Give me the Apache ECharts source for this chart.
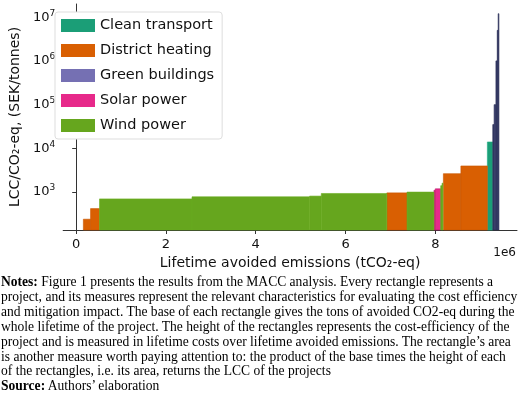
<!DOCTYPE html>
<html><head><meta charset="utf-8">
<script src="https://cdn.jsdelivr.net/npm/echarts@6/dist/echarts.min.js"></script>
<style>
body{margin:0;background:#fff;}
#c{position:absolute;left:0;top:0;width:520px;height:280px;}
#n{position:absolute;left:1px;top:275px;width:520px;font-family:"Liberation Serif","DejaVu Serif",serif;font-size:13.55px;line-height:14.9px;color:#000;white-space:nowrap;}
</style></head><body>
<div id="c"></div>
<div id="n"><b>Notes:</b> Figure 1 presents the results from the MACC analysis. Every rectangle represents a<br>project, and its measures represent the relevant characteristics for evaluating the cost efficiency<br>and mitigation impact. The base of each rectangle gives the tons of avoided CO2-eq during the<br>whole lifetime of the project. The height of the rectangles represents the cost-efficiency of the<br>project and is measured in lifetime costs over lifetime avoided emissions. The rectangle’s area<br>is another measure worth paying attention to: the product of the base times the height of each<br>of the rectangles, i.e. its area, returns the LCC of the projects<br><b>Source:</b> Authors’ elaboration</div>
<script>
const categories = ["Clean transport","District heating","Green buildings","Solar power","Wind power"];
const colors = ["#1b9e77","#d95f02","#7570b3","#e7298a","#66a61e"];
// project bars: start (tCO2-eq), end, height (SEK/t), category index
const barStart = [0.16e6,0.32e6,0.52e6,2.58e6,5.20e6,5.46e6,6.92e6,7.37e6,7.97e6,8.00e6,8.12e6,8.15e6,8.18e6,8.57e6,9.16e6,9.28e6,9.31e6,9.35e6,9.38e6,9.40e6];
const barEnd   = [0.32e6,0.52e6,2.58e6,5.20e6,5.46e6,6.92e6,7.37e6,7.97e6,8.00e6,8.12e6,8.15e6,8.17e6,8.57e6,9.16e6,9.28e6,9.31e6,9.35e6,9.38e6,9.40e6,9.41e6];
const barValue = [240,420,700,780,810,930,960,1000,1100,1190,1400,1600,2640,3960,14000,35000,100000,1000000,5000000,12000000];
const barCat   = [1,1,4,4,4,4,1,4,3,3,4,4,1,1,0,2,2,2,2,2];
const xTicks = [0,2e6,4e6,6e6,8e6];
const yTicks = [1e3,1e4,1e5,1e6,1e7];

const chart = echarts.init(document.getElementById('c'));
const series = categories.map((name,ci)=>({
  name, type:'custom', itemStyle:{color:colors[ci]},
  encode:{x:[0,1],y:2},
  data: barStart.map((s,i)=>[s,barEnd[i],barValue[i],barCat[i]]).filter(d=>d[3]===ci),
  renderItem:(params,api)=>{
    const p0=api.coord([api.value(0),api.value(2)]);
    const p1=api.coord([api.value(1),136]);
    const edge = ci===2 ? '#2a2f55' : echarts.color.modifyHSL(colors[ci],null,null,0.4);
    return {type:'rect',shape:{x:p0[0],y:p0[1],width:Math.max(p1[0]-p0[0],0.8),height:p1[1]-p0[1]},
      style:{fill:ci===2?'#3a3d6e':colors[ci],stroke:edge,lineWidth:0.6}};
  }
}));
chart.setOption({
  animation:false,
  grid:{left:47,right:3,top:4,bottom:50},
  legend:{data:categories,orient:'vertical',left:55,top:12,itemWidth:34,itemHeight:13,itemGap:10,
    padding:[6,8,6,6],borderColor:'#ddd',borderWidth:1,borderRadius:3,backgroundColor:'#fff',
    textStyle:{fontSize:14.5,fontFamily:'DejaVu Sans',color:'#111'},icon:'rect'},
  xAxis:{type:'value',min:-0.29e6,max:9.82e6,
    axisLine:{lineStyle:{color:'#333'}},axisTick:{length:4,lineStyle:{color:'#333'},customValues:xTicks},splitLine:{show:false},
    axisLabel:{customValues:xTicks,formatter:v=>String(v/1e6),fontSize:13,fontFamily:'DejaVu Sans',color:'#111'},
    name:'Lifetime avoided emissions (tCO₂-eq)',nameLocation:'middle',nameGap:20,
    nameTextStyle:{fontSize:14,fontFamily:'DejaVu Sans',color:'#111'}},
  yAxis:{type:'log',logBase:10,min:136,max:2e7,
    axisLine:{show:true,lineStyle:{color:'#333'}},axisTick:{show:true,length:4,lineStyle:{color:'#333'},customValues:yTicks},splitLine:{show:false},
    axisLabel:{customValues:yTicks,fontSize:13,fontFamily:'DejaVu Sans',color:'#111',
      formatter:v=>'10{s|'+Math.round(Math.log10(v))+'}',
      rich:{s:{fontSize:9,verticalAlign:'top',padding:[0,0,8,0],fontFamily:'DejaVu Sans',color:'#111'}}},
    name:'LCC/CO₂-eq, (SEK/tonnes)',nameLocation:'middle',nameGap:33,
    nameTextStyle:{fontSize:14,fontFamily:'DejaVu Sans',color:'#111'}},
  graphic:[{type:'text',right:4,top:247,style:{text:'1e6',fontSize:12,fontFamily:'DejaVu Sans',fill:'#111'}}],
  series
});
</script></body></html>
